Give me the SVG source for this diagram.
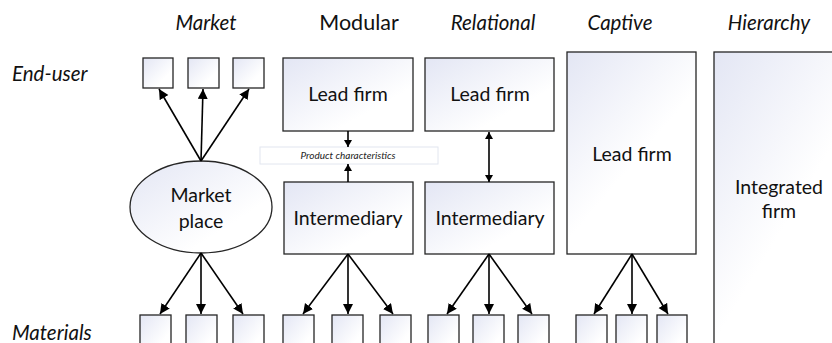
<svg xmlns="http://www.w3.org/2000/svg" width="832" height="343" viewBox="0 0 832 343">
<defs>
<linearGradient id="g" x1="0" y1="0" x2="1" y2="1">
<stop offset="0" stop-color="#e3e6f4"/>
<stop offset="0.7" stop-color="#ffffff"/>
</linearGradient>
<linearGradient id="gt" x1="0" y1="0" x2="0.45" y2="0.6">
<stop offset="0" stop-color="#e3e6f4"/>
<stop offset="1" stop-color="#ffffff"/>
</linearGradient>
<marker id="ah" markerUnits="userSpaceOnUse" markerWidth="11" markerHeight="11" refX="10" refY="5" orient="auto">
<path d="M0,0 L10,5 L0,10 z" fill="#000"/>
</marker>
<marker id="as" markerUnits="userSpaceOnUse" markerWidth="9" markerHeight="9" refX="7" refY="4" orient="auto">
<path d="M0,0 L7,4 L0,8 z" fill="#000"/>
</marker>
<marker id="as0" markerUnits="userSpaceOnUse" markerWidth="9" markerHeight="9" refX="0" refY="4" orient="auto">
<path d="M7,0 L0,4 L7,8 z" fill="#000"/>
</marker>
</defs>
<style>
.n{fill:url(#g);stroke:#262626;stroke-width:1.3}
.n2{fill:url(#gt);stroke:#262626;stroke-width:1.3}
.t{font-family:Lato,"Open Sans",sans-serif;font-size:19.5px;fill:#111;text-anchor:middle}
.h{font-family:Lato,"Open Sans",sans-serif;font-size:20.5px;fill:#111;text-anchor:middle;font-style:italic}
.l{font-family:Lato,"Open Sans",sans-serif;font-size:20.5px;fill:#111;font-style:italic}
.c line{stroke:#000;stroke-width:1.6;marker-end:url(#ah)}
</style>
<g id="headers">
<text class="h" x="206" y="30">Market</text>
<text class="h" x="359" y="30" style="font-style:normal;font-size:21.5px">Modular</text>
<text class="h" x="493" y="30">Relational</text>
<text class="h" x="620" y="30">Captive</text>
<text class="h" x="769" y="30">Hierarchy</text>
<text class="l" x="12" y="81">End-user</text>
<text class="l" x="12" y="340">Materials</text>
</g>
<g id="market-top"><rect class="n" x="143" y="58" width="30" height="30"/><rect class="n" x="188" y="58" width="31" height="30"/><rect class="n" x="233" y="58" width="31" height="30"/></g>
<g id="market-place"><ellipse class="n" cx="201" cy="207" rx="71" ry="46"/><text class="t" x="201" y="202">Market</text><text class="t" x="201" y="228">place</text></g>
<g id="market-bottom"><rect class="n" x="140" y="315" width="31" height="40"/><rect class="n" x="186" y="315" width="31" height="40"/><rect class="n" x="233" y="315" width="31" height="40"/></g>
<g id="modular-lead"><rect class="n" x="283" y="58" width="130" height="73"/><text class="t" x="348" y="101">Lead firm</text></g>
<g id="product-characteristics"><rect x="260" y="147" width="178" height="17" fill="#fff" stroke="#e2e6ef" stroke-width="1"/><text x="348" y="159" style="font-family:Lato,'Open Sans',sans-serif;font-size:10px;font-style:italic;text-anchor:middle;fill:#222">Product characteristics</text></g>
<g id="modular-intermediary"><rect class="n" x="284" y="182" width="129" height="72"/><text class="t" x="348" y="225">Intermediary</text></g>
<g id="modular-bottom"><rect class="n" x="283" y="315" width="31" height="40"/><rect class="n" x="332" y="315" width="31" height="40"/><rect class="n" x="380" y="315" width="31" height="40"/></g>
<g id="relational-lead"><rect class="n" x="425" y="58" width="129" height="73"/><text class="t" x="490" y="101">Lead firm</text></g>
<g id="relational-intermediary"><rect class="n" x="425" y="182" width="129" height="72"/><text class="t" x="490" y="225">Intermediary</text></g>
<g id="relational-bottom"><rect class="n" x="428" y="315" width="31" height="40"/><rect class="n" x="473" y="315" width="31" height="40"/><rect class="n" x="518" y="315" width="31" height="40"/></g>
<g id="captive-lead"><rect class="n2" x="567" y="52" width="129" height="202"/><text class="t" x="632" y="161">Lead firm</text></g>
<g id="captive-bottom"><rect class="n" x="576" y="315" width="31" height="40"/><rect class="n" x="616" y="315" width="31" height="40"/><rect class="n" x="657" y="315" width="30" height="40"/></g>
<g id="integrated-firm"><rect class="n2" x="714" y="52" width="140" height="310"/><text class="t" x="779" y="194">Integrated</text><text class="t" x="779" y="218">firm</text></g>
<g id="connectors" class="c">
<line x1="201" y1="161" x2="159" y2="89"/>
<line x1="201" y1="161" x2="203" y2="89"/>
<line x1="201" y1="161" x2="249" y2="89"/>
<line x1="201" y1="253" x2="160" y2="314"/>
<line x1="201" y1="253" x2="201" y2="314"/>
<line x1="201" y1="253" x2="243" y2="314"/>
<line x1="348" y1="131" x2="348" y2="147" style="marker-end:url(#as)"/>
<line x1="348" y1="182" x2="348" y2="164" style="marker-end:url(#as)"/>
<line x1="489" y1="132" x2="489" y2="182" style="marker-end:url(#as);marker-start:url(#as0)"/>
<line x1="348" y1="254" x2="303" y2="314"/>
<line x1="348" y1="254" x2="348" y2="314"/>
<line x1="348" y1="254" x2="393" y2="314"/>
<line x1="489" y1="254" x2="447" y2="314"/>
<line x1="489" y1="254" x2="489" y2="314"/>
<line x1="489" y1="254" x2="532" y2="314"/>
<line x1="632" y1="254" x2="594" y2="314"/>
<line x1="632" y1="254" x2="632" y2="314"/>
<line x1="632" y1="254" x2="668" y2="314"/>
</g>
</svg>
